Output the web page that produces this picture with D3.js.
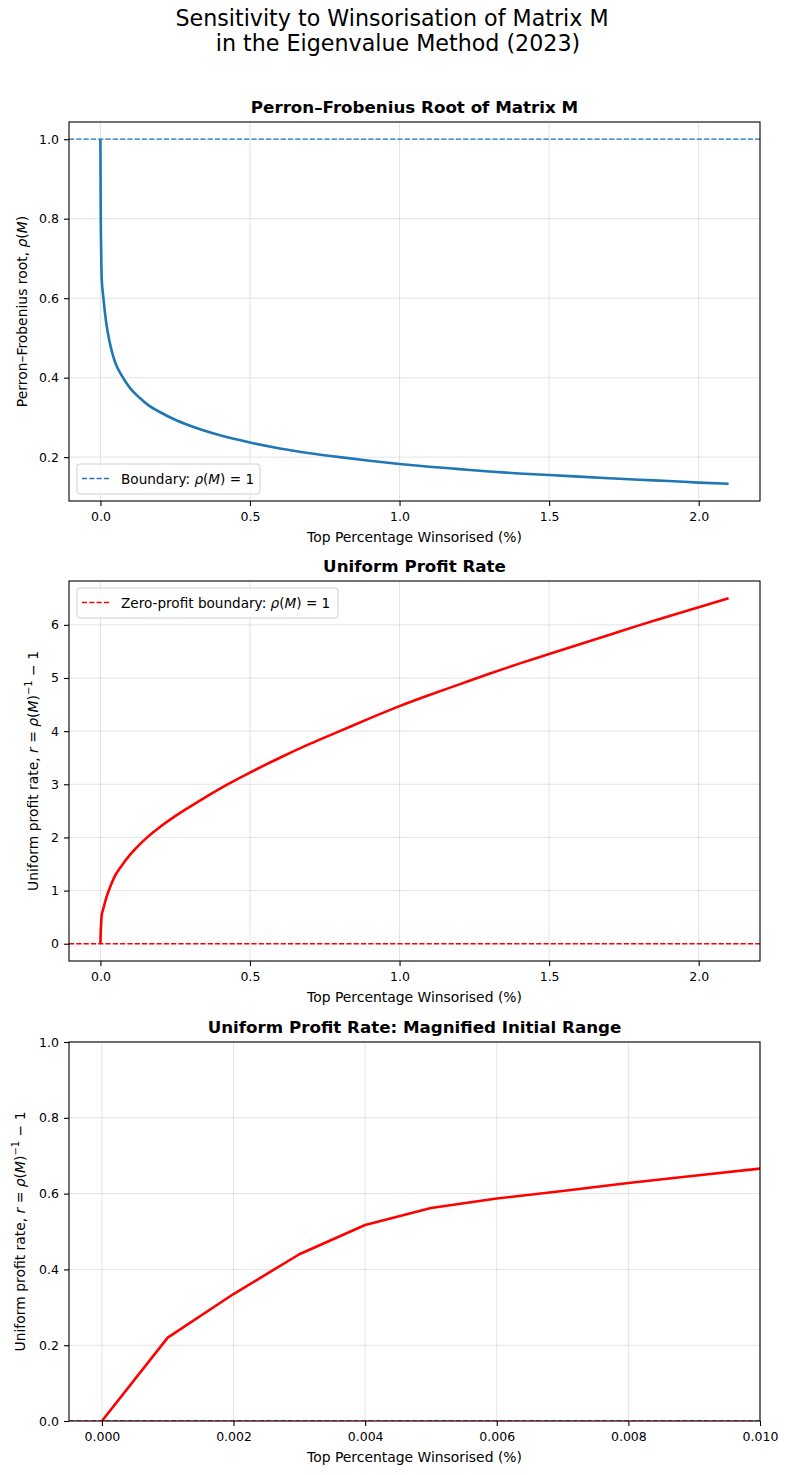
<!DOCTYPE html>
<html lang="en">
<head>
    <meta charset="UTF-8">
    <title>Winsorisation sensitivity</title>
    <script src="https://d3js.org/d3.v7.min.js"></script>
</head>
<style>
    html,body {
        margin: 0;
        padding: 0;
        background: #fff;
    }
    text { font-family: "DejaVu Sans", sans-serif; }
</style>
<body>
    <div id="svg"></div>
</body>
<script>
    // share of top values winsorised (%)
    const pct = [0, 0.001, 0.002, 0.003, 0.004, 0.005, 0.006, 0.007, 0.008, 0.009, 0.010,
        0.015, 0.02, 0.03, 0.04, 0.05, 0.07, 0.1, 0.13, 0.16, 0.2, 0.25, 0.3, 0.4, 0.5,
        0.6, 0.7, 0.8, 0.9, 1.0, 1.1, 1.2, 1.3, 1.4, 1.5, 1.6, 1.7, 1.8, 1.9, 2.0, 2.1];
    // Perron-Frobenius root rho(M)
    const rho = [1.0, 0.82, 0.749, 0.694, 0.659, 0.640, 0.630, 0.622, 0.614, 0.607, 0.600,
        0.565, 0.535, 0.493, 0.461, 0.437, 0.407, 0.373, 0.350, 0.331, 0.313, 0.294, 0.279, 0.255, 0.237,
        0.222, 0.210, 0.200, 0.191, 0.183, 0.176, 0.170, 0.164, 0.159, 0.155, 0.151, 0.147, 0.143, 0.140, 0.136, 0.133];
    // uniform profit rate r
    const profit = [0, 0.22, 0.335, 0.44, 0.517, 0.562, 0.587, 0.607, 0.628, 0.647, 0.666,
        0.77, 0.87, 1.03, 1.17, 1.29, 1.46, 1.68, 1.86, 2.02, 2.20, 2.40, 2.58, 2.92, 3.22,
        3.50, 3.76, 4.00, 4.24, 4.47, 4.68, 4.88, 5.08, 5.27, 5.45, 5.63, 5.81, 5.99, 6.16, 6.33, 6.50];

    const xTicksWide = [0, 0.5, 1.0, 1.5, 2.0];
    const xTicksZoom = [0, 0.002, 0.004, 0.006, 0.008, 0.010];
    const yTicksRho = [0.2, 0.4, 0.6, 0.8, 1.0];
    const yTicksProfit = [0, 1, 2, 3, 4, 5, 6];
    const yTicksZoom = [0, 0.2, 0.4, 0.6, 0.8, 1.0];

    const width = 790;
    const height = 1475;
    const left = 69, right = 760;
    const blue = '#1f77b4';
    const red = '#ff0000';
    const labelSize = '13.9px';
    const tickSize = '12.5px';

    const svg = d3.select('#svg').append('svg')
        .attr('width', width)
        .attr('height', height);

    // suptitle
    svg.append('text').attr('x', 392).attr('y', 26).attr('text-anchor', 'middle')
        .attr('font-size', '22.2px').text('Sensitivity to Winsorisation of Matrix M');
    svg.append('text').attr('x', 398).attr('y', 51).attr('text-anchor', 'middle')
        .attr('font-size', '22.2px').text('in the Eigenvalue Method (2023)');

    // writes "ρ(M)" with italic symbols into a text element
    function mathRho(t) {
        t.append('tspan').attr('font-style', 'italic').text('ρ');
        t.append('tspan').text('(');
        t.append('tspan').attr('font-style', 'italic').text('M');
        t.append('tspan').text(')');
    }

    function profitLabel(t) {
        t.append('tspan').text('Uniform profit rate, ');
        t.append('tspan').attr('font-style', 'italic').text('r');
        t.append('tspan').text(' = ');
        mathRho(t);
        t.append('tspan').attr('font-size', '10px').attr('dy', '-6').text('−1');
        t.append('tspan').attr('dy', '6').text(' − 1');
    }

    let clipId = 0;
    function panel(o) {
        const g = svg.append('g');
        const x = d3.scaleLinear().domain(o.xDomain).range([left, right]);
        const y = d3.scaleLinear().domain(o.yDomain).range([o.bottom, o.top]);

        // grid
        g.append('g').selectAll('line').data(o.xTicks).enter().append('line')
            .attr('x1', d => x(d)).attr('x2', d => x(d))
            .attr('y1', o.top).attr('y2', o.bottom)
            .attr('stroke', '#b0b0b0').attr('stroke-opacity', 0.35).attr('stroke-width', 1);
        g.append('g').selectAll('line').data(o.yTicks).enter().append('line')
            .attr('y1', d => y(d)).attr('y2', d => y(d))
            .attr('x1', left).attr('x2', right)
            .attr('stroke', '#b0b0b0').attr('stroke-opacity', 0.35).attr('stroke-width', 1);

        const id = 'clip' + (clipId++);
        svg.append('clipPath').attr('id', id).append('rect')
            .attr('x', left).attr('y', o.top).attr('width', right - left).attr('height', o.bottom - o.top);
        const plot = g.append('g').attr('clip-path', `url(#${id})`);

        // boundary line
        plot.append('line')
            .attr('x1', left).attr('x2', right)
            .attr('y1', y(o.refY)).attr('y2', y(o.refY))
            .attr('stroke', o.refColor).attr('stroke-width', 1.3)
            .attr('stroke-dasharray', '5.1,2.2');

        const pts = pct.map((p, i) => [p, o.values[i]]);
        plot.append('path').datum(pts)
            .attr('fill', 'none').attr('stroke', o.color).attr('stroke-width', 2.6)
            .attr('stroke-linejoin', 'round')
            .attr('d', d3.line().curve(o.curve).x(d => x(d[0])).y(d => y(d[1])));

        // axes
        const ax = g.append('g').attr('transform', `translate(0,${o.bottom})`)
            .call(d3.axisBottom(x).tickValues(o.xTicks).tickFormat(o.xFmt).tickSize(5).tickPadding(6));
        const ay = g.append('g').attr('transform', `translate(${left},0)`)
            .call(d3.axisLeft(y).tickValues(o.yTicks).tickFormat(o.yFmt).tickSize(5).tickPadding(5));
        [ax, ay].forEach(a => {
            a.select('.domain').remove();
            a.selectAll('text').attr('font-size', tickSize).attr('fill', '#000')
                .attr('font-family', '"DejaVu Sans", sans-serif');
            a.selectAll('line').attr('stroke', '#000').attr('stroke-width', 1.1);
        });
        g.append('rect').attr('x', left).attr('y', o.top)
            .attr('width', right - left).attr('height', o.bottom - o.top)
            .attr('fill', 'none').attr('stroke', '#000').attr('stroke-width', 1.1);

        // titles
        g.append('text').attr('x', (left + right) / 2).attr('y', o.top - 9.5)
            .attr('text-anchor', 'middle').attr('font-size', '16.7px').attr('font-weight', 'bold')
            .text(o.title);
        g.append('text').attr('x', (left + right) / 2).attr('y', o.bottom + 41)
            .attr('text-anchor', 'middle').attr('font-size', labelSize)
            .text('Top Percentage Winsorised (%)');
        const yl = g.append('text')
            .attr('transform', `translate(${o.ylabelX},${(o.top + o.bottom) / 2}) rotate(-90)`)
            .attr('text-anchor', 'middle').attr('font-size', labelSize);
        o.ylabel(yl);

        if (o.legend) {
            const L = o.legend;
            const lg = g.append('g').attr('transform', `translate(${L.x},${L.y})`);
            lg.append('rect').attr('width', L.w).attr('height', 30).attr('rx', 3)
                .attr('fill', '#fff').attr('fill-opacity', 0.8)
                .attr('stroke', '#d0d0d0').attr('stroke-width', 1);
            lg.append('line').attr('x1', 5).attr('x2', 33).attr('y1', 14.5).attr('y2', 14.5)
                .attr('stroke', o.refColor).attr('stroke-width', 1.3).attr('stroke-dasharray', '5.1,2.2');
            const lt = lg.append('text').attr('x', 44).attr('y', 19.5).attr('font-size', '13.6px');
            lt.append('tspan').text(L.label);
            mathRho(lt);
            lt.append('tspan').text(' = 1');
        }
    }

    panel({
        top: 122, bottom: 501,
        xDomain: [-0.105, 2.205], yDomain: [0.0897, 1.0433],
        xTicks: xTicksWide, yTicks: yTicksRho,
        xFmt: d3.format('.1f'), yFmt: d3.format('.1f'),
        values: rho, color: blue, curve: d3.curveMonotoneX,
        refY: 1, refColor: blue,
        title: 'Perron–Frobenius Root of Matrix M',
        ylabelX: 27,
        ylabel: t => { t.append('tspan').text('Perron–Frobenius root, '); mathRho(t); },
        legend: { x: 77, y: 464, w: 183, label: 'Boundary: ' }
    });

    panel({
        top: 581, bottom: 961,
        xDomain: [-0.105, 2.205], yDomain: [-0.325, 6.825],
        xTicks: xTicksWide, yTicks: yTicksProfit,
        xFmt: d3.format('.1f'), yFmt: d3.format('d'),
        values: profit, color: red, curve: d3.curveMonotoneX,
        refY: 0, refColor: red,
        title: 'Uniform Profit Rate',
        ylabelX: 38,
        ylabel: profitLabel,
        legend: { x: 77, y: 588, w: 261, label: 'Zero-profit boundary: ' }
    });

    panel({
        top: 1042, bottom: 1421,
        xDomain: [-0.0005, 0.010], yDomain: [0, 1],
        xTicks: xTicksZoom, yTicks: yTicksZoom,
        xFmt: d3.format('.3f'), yFmt: d3.format('.1f'),
        values: profit, color: red, curve: d3.curveLinear,
        refY: 0, refColor: red,
        title: 'Uniform Profit Rate: Magnified Initial Range',
        ylabelX: 25,
        ylabel: profitLabel
    });
</script>
</html>
